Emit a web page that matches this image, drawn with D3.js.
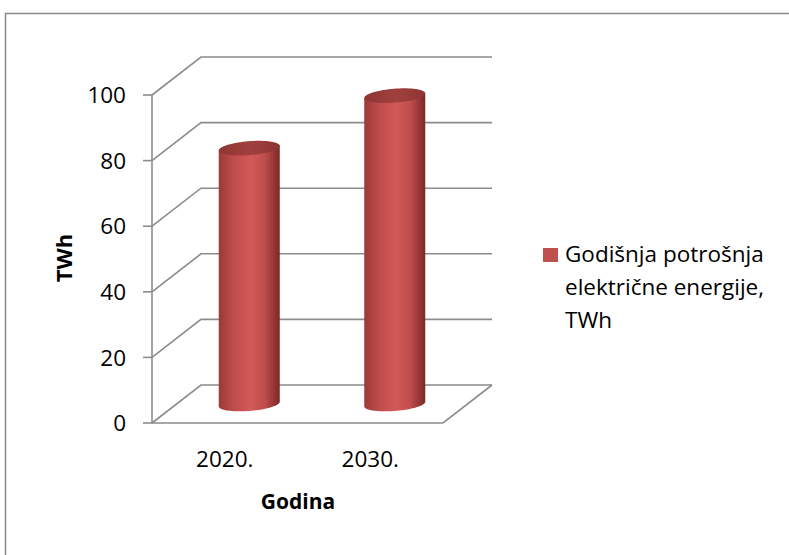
<!DOCTYPE html>
<html>
<head>
<meta charset="utf-8">
<script src="https://cdn.jsdelivr.net/npm/d3@7"></script>
<style>
  html, body { margin: 0; padding: 0; background: #fff; }
  svg { display: block; }
  text { font-family: "Open Sans", "Noto Sans", sans-serif; fill: #000; }
</style>
</head>
<body>
<script>
// Annual electricity consumption, TWh
const categories = ["2020.", "2030."];
const consumption = [78, 94];
const yTicks = [0, 20, 40, 60, 80, 100];
const seriesName = ["Godišnja potrošnja", "električne energije,", "TWh"];
const yTitle = "TWh";
const xTitle = "Godina";

const W = 789, H = 555;
const svg = d3.select("body").append("svg").attr("width", W).attr("height", H);

// Outer chart frame
svg.append("rect")
  .attr("x", 5.5).attr("y", 13.5)
  .attr("width", 800).attr("height", 600)
  .attr("fill", "none").attr("stroke", "#8a8a8a").attr("stroke-width", 1.5);

// 3D box: front plane + oblique depth offset
const x = d3.scaleBand().domain(categories).range([152, 443]);
const y = d3.scaleLinear().domain([0, 100]).range([423, 95]);
const depth = { dx: 49, dy: -38 };

const gridColor = "#8c8c8c";
const g = svg.append("g");

// Back wall and side wall gridlines
yTicks.forEach(t => {
  const yf = y(t);
  g.append("path")
    .attr("d", `M${x.range()[0]},${yf} L${x.range()[0] + depth.dx},${yf + depth.dy} L${x.range()[1] + depth.dx},${yf + depth.dy}`)
    .attr("fill", "none").attr("stroke", gridColor).attr("stroke-width", 1.6);
});

// Floor front and right edges
g.append("path")
  .attr("d", `M${x.range()[0]},${y(0)} L${x.range()[1]},${y(0)} L${x.range()[1] + depth.dx},${y(0) + depth.dy}`)
  .attr("fill", "none").attr("stroke", gridColor).attr("stroke-width", 1.6);

// Value axis line and ticks
g.append("line")
  .attr("x1", x.range()[0]).attr("x2", x.range()[0])
  .attr("y1", y(100)).attr("y2", y(0))
  .attr("stroke", gridColor).attr("stroke-width", 1.6);
yTicks.forEach(t => {
  g.append("line")
    .attr("x1", x.range()[0] - 9).attr("x2", x.range()[0])
    .attr("y1", y(t)).attr("y2", y(t))
    .attr("stroke", gridColor).attr("stroke-width", 1.6);
  g.append("text")
    .attr("x", 126).attr("y", y(t)).attr("dy", "0.36em")
    .attr("text-anchor", "end").attr("font-size", 22.5)
    .text(t);
});

// Cylinder gradients
const defs = svg.append("defs");
const sideGrad = defs.append("linearGradient").attr("id", "cylSide")
  .attr("x1", "0").attr("x2", "1").attr("y1", "0").attr("y2", "0");
[[0, "#9a3a38"], [0.25, "#bf4d4b"], [0.52, "#d25a58"], [0.75, "#c04e4c"], [1, "#7a2927"]]
  .forEach(([o, c]) => sideGrad.append("stop").attr("offset", o).attr("stop-color", c));
const topGrad = defs.append("linearGradient").attr("id", "cylTop")
  .attr("x1", "0").attr("x2", "1").attr("y1", "0").attr("y2", "0");
[[0, "#8e3533"], [0.5, "#a0403e"], [1, "#8e3533"]]
  .forEach(([o, c]) => topGrad.append("stop").attr("offset", o).attr("stop-color", c));

// Cylinder cross-section: circle in the floor plane under the oblique projection
const R = 29, Rd = 12;
const dLen = Math.hypot(depth.dx, depth.dy);
const ux = depth.dx / dLen, uy = depth.dy / dLen;
const pt = (cx, cy, th) => [cx + R * Math.cos(th) + Rd * ux * Math.sin(th), cy + Rd * uy * Math.sin(th)];
const th0 = Math.atan2(Rd * ux, R); // right silhouette angle
const line = d3.line();

const midDx = depth.dx / 2, midDy = depth.dy / 2;
categories.forEach((c, i) => {
  const cx = x(c) + x.bandwidth() / 2 + midDx;
  const yb = y(0) + midDy;
  const yt = y(consumption[i]) + midDy;
  const pts = [];
  // right silhouette at top, down to bottom, front arc, up left side
  pts.push(pt(cx, yt, th0));
  for (let k = 0; k <= 60; k++) {
    const th = th0 - Math.PI * k / 60;
    pts.push(pt(cx, yb, th));
  }
  pts.push(pt(cx, yt, th0 - Math.PI));
  g.append("path").attr("d", line(pts) + "Z").attr("fill", "url(#cylSide)");
  const tp = d3.range(0, 73).map(k => pt(cx, yt, 2 * Math.PI * k / 72));
  g.append("path").attr("d", line(tp) + "Z").attr("fill", "url(#cylTop)");
});

// Category labels
categories.forEach(c => {
  g.append("text")
    .attr("x", x(c) + x.bandwidth() / 2).attr("y", 459).attr("dy", "0.36em")
    .attr("text-anchor", "middle").attr("font-size", 22.5)
    .text(c);
});

// Axis titles
svg.append("text")
  .attr("transform", `translate(64,258) rotate(-90)`).attr("dy", "0.36em")
  .attr("text-anchor", "middle").attr("font-size", 22).attr("font-weight", "bold")
  .text(yTitle);
svg.append("text")
  .attr("x", 298).attr("y", 501).attr("dy", "0.36em")
  .attr("text-anchor", "middle").attr("font-size", 21).attr("font-weight", "bold")
  .text(xTitle);

// Legend
svg.append("rect").attr("x", 543).attr("y", 248).attr("width", 15).attr("height", 14).attr("fill", "#c0504d");
seriesName.forEach((s, i) => {
  svg.append("text")
    .attr("x", 565).attr("y", 254 + i * 33).attr("dy", "0.36em")
    .attr("font-size", 22.5)
    .text(s);
});
</script>
</body>
</html>
